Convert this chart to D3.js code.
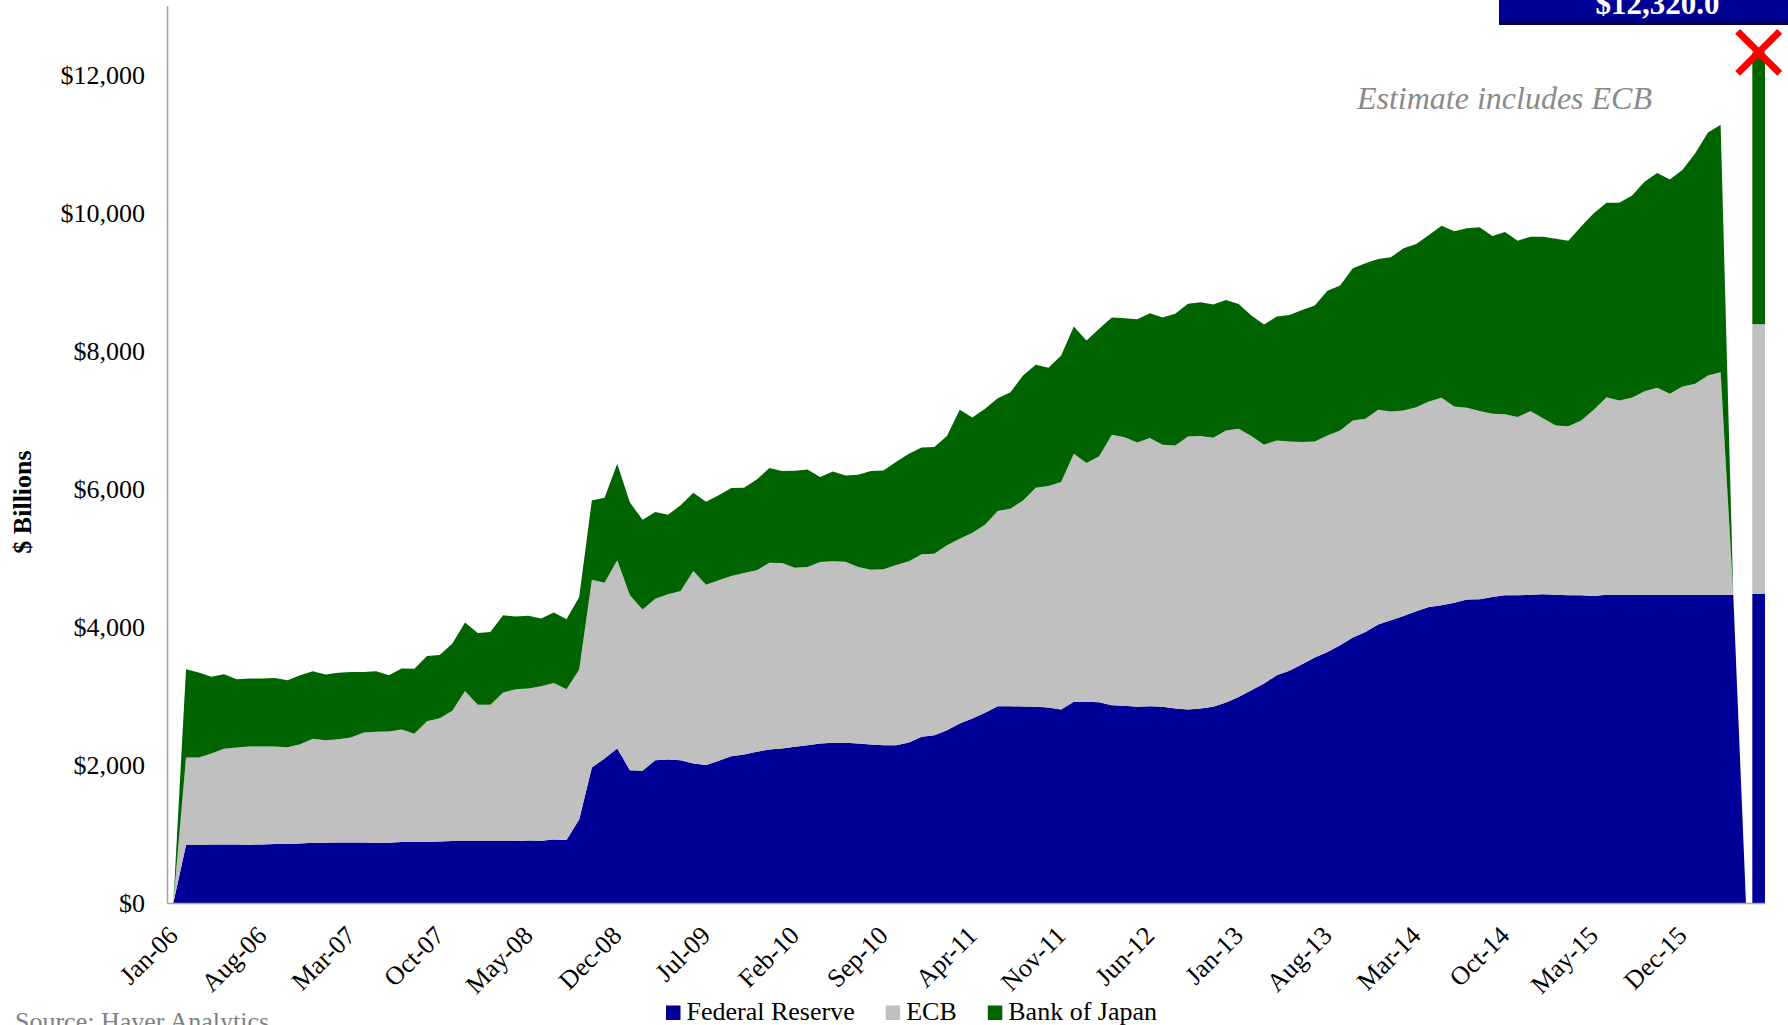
<!DOCTYPE html>
<html>
<head>
<meta charset="utf-8">
<script src="https://cdn.jsdelivr.net/npm/d3@7"></script>
<style>
  html, body { margin: 0; padding: 0; background: #fff; }
  svg { display: block; }
  text { font-family: "Liberation Serif", "Times New Roman", serif; }
</style>
</head>
<body>
<svg id="chart" width="1788" height="1025"></svg>
<script>
// ---------------- DATA ($ billions, monthly Jan-06 .. May-16) ----------------
const monthNames = ["Jan","Feb","Mar","Apr","May","Jun","Jul","Aug","Sep","Oct","Nov","Dec"];
const monthCategories = [];
for (let i = 0; i < 125; i++) {
  monthCategories.push(monthNames[i % 12] + "-" + String(6 + Math.floor(i / 12)).padStart(2, "0"));
}
const estimateCategory = "Estimate";
const categories = monthCategories.concat([estimateCategory]);

const xTickLabels = ["Jan-06","Aug-06","Mar-07","Oct-07","May-08","Dec-08","Jul-09","Feb-10","Sep-10",
  "Apr-11","Nov-11","Jun-12","Jan-13","Aug-13","Mar-14","Oct-14","May-15","Dec-15"];
const yTickValues = [0, 2000, 4000, 6000, 8000, 10000, 12000];

const fedValues = [0,
  839,839,849,849,849,844,849,854,854,863,873,873,878,878,878,873,873,883,887,887,
  892,897,897,897,897,897,897,907,902,921,911,1210,1962,2094,2238,1924,1915,2069,2079,2069,
  2021,1997,2059,2127,2151,2190,2223,2238,2262,2286,2310,2320,2320,2310,2296,2286,2286,2325,2407,2431,
  2503,2600,2672,2754,2850,2850,2846,2841,2831,2802,2913,2913,2908,2865,2855,2841,2850,2841,2817,2802,
  2817,2841,2903,2985,3082,3178,3299,3362,3458,3555,3637,3733,3844,3926,4032,4095,4157,4225,4288,4312,
  4350,4394,4399,4432,4456,4456,4466,4471,4466,4456,4456,4447,4466,4466,4461,4461,4466,4461,4461,4461,
  4466,4461,4461,0];

const ecbValues = [0,
  1269,1269,1317,1384,1403,1423,1418,1413,1403,1438,1505,1485,1495,1519,1591,1606,1611,1630,1563,1746,
  1785,1886,2175,1973,1973,2151,2199,2199,2238,2267,2185,2171,2718,2546,2725,2533,2334,2339,2392,2450,
  2788,2614,2614,2609,2629,2628,2706,2686,2595,2580,2629,2628,2624,2556,2532,2547,2609,2623,2643,2628,
  2677,2676,2691,2725,2827,2860,2985,3174,3207,3294,3594,3458,3564,3917,3892,3830,3883,3796,3810,3955,
  3945,3897,3941,3883,3680,3458,3400,3323,3217,3130,3134,3111,3145,3087,3111,3024,2976,2956,2975,3004,
  2841,2778,2725,2653,2624,2581,2658,2551,2450,2450,2533,2696,2860,2812,2855,2952,2995,2913,3019,3058,
  3174,3227,0,0];

const bojValues = [0,
  1278,1229,1109,1080,989,984,984,993,970,998,979,951,960,950,878,878,815,882,941,946,
  916,974,989,1041,1056,1119,1052,1056,979,1018,1013,1051,1150,1230,1399,1343,1302,1254,1153,1240,
  1134,1199,1231,1274,1235,1317,1370,1332,1403,1414,1230,1303,1249,1337,1428,1432,1495,1559,1548,1544,
  1582,1867,1669,1679,1635,1689,1809,1780,1713,1834,1842,1776,1844,1697,1722,1784,1809,1842,1906,1921,
  1939,1929,1891,1809,1746,1742,1794,1832,1915,1967,2098,2098,2204,2252,2185,2233,2349,2364,2412,2494,
  2537,2599,2662,2575,2638,2556,2527,2629,2706,2687,2807,2845,2817,2865,2928,3034,3111,3106,3140,3338,
  3520,3583,0,0];

// Estimate column (includes ECB)
const estimateFed = 4476;
const estimateEcb = 3907;
const estimateBoj = 3937;
const estimateLabel = "$12,320.0";

const seriesNames = ["Federal Reserve", "ECB", "Bank of Japan"];
const seriesColors = ["#000099", "#c0c0c0", "#006400"];

// ---------------- CHART ----------------
const svg = d3.select("#chart");

const x = d3.scaleBand().domain(categories).range([167, 1765]).paddingInner(0).paddingOuter(0);
const y = d3.scaleLinear().domain([0, 13000]).range([903, 5.4]);
const cx = c => x(c) + x.bandwidth() / 2;

const rows = monthCategories.map((c, i) => ({
  cat: c, "Federal Reserve": fedValues[i], "ECB": ecbValues[i], "Bank of Japan": bojValues[i]
}));
const stacked = d3.stack().keys(seriesNames)(rows);

const area = d3.area()
  .x(d => cx(d.data.cat))
  .y0(d => y(d[0]))
  .y1(d => y(d[1]))
  .curve(d3.curveLinear);

svg.append("g").selectAll("path")
  .data(stacked)
  .join("path")
  .attr("d", area)
  .attr("fill", (d, i) => seriesColors[i]);

// Estimate stacked column
const estRows = [{ cat: estimateCategory, "Federal Reserve": estimateFed, "ECB": estimateEcb, "Bank of Japan": estimateBoj }];
const estStack = d3.stack().keys(seriesNames)(estRows);
svg.append("g").selectAll("rect")
  .data(estStack)
  .join("rect")
  .attr("x", d => x(d[0].data.cat))
  .attr("width", x.bandwidth())
  .attr("y", d => y(d[0][1]))
  .attr("height", d => y(d[0][0]) - y(d[0][1]))
  .attr("fill", (d, i) => seriesColors[i]);

// Axes
const axisColor = "#a6a6a6";
const xAxis = svg.append("g")
  .attr("transform", `translate(0,${y(0)})`)
  .call(d3.axisBottom(x).tickValues(xTickLabels).tickSize(0).tickSizeOuter(0));
xAxis.select(".domain").attr("stroke", axisColor).attr("stroke-width", 1.6);
xAxis.selectAll(".tick line").remove();
xAxis.selectAll(".tick text")
  .attr("x", 0).attr("y", 0).attr("dy", 0)
  .attr("text-anchor", "end")
  .attr("transform", "translate(6,34) rotate(-45)")
  .attr("fill", "#000")
  .style("font-family", "'Liberation Serif', 'Times New Roman', serif")
  .style("font-size", "26px");

const yAxis = svg.append("g")
  .attr("transform", `translate(167,0)`)
  .call(d3.axisLeft(y).tickValues(yTickValues).tickSize(0).tickSizeOuter(0).tickPadding(22)
    .tickFormat(v => "$" + d3.format(",")(v)));
yAxis.select(".domain").attr("stroke", axisColor).attr("stroke-width", 1.6);
yAxis.selectAll(".tick text")
  .attr("dy", "0.33em")
  .attr("fill", "#000")
  .style("font-family", "'Liberation Serif', 'Times New Roman', serif")
  .style("font-size", "26px");

// Y axis title
svg.append("text")
  .attr("transform", "translate(31,502) rotate(-90)")
  .attr("text-anchor", "middle")
  .attr("font-size", 26)
  .attr("font-weight", "bold")
  .attr("fill", "#000")
  .text("$ Billions");

// Annotation
svg.append("text")
  .attr("x", 1652).attr("y", 109)
  .attr("text-anchor", "end")
  .attr("font-size", 32)
  .attr("font-style", "italic")
  .attr("fill", "#8a8a8a")
  .text("Estimate includes ECB");

// Estimate value box
const defs = svg.append("defs");
const grad = defs.append("linearGradient").attr("id", "boxGrad")
  .attr("x1", "0%").attr("y1", "0%").attr("x2", "0%").attr("y2", "100%");
grad.append("stop").attr("offset", "0%").attr("stop-color", "#0000a0");
grad.append("stop").attr("offset", "85%").attr("stop-color", "#000090");
grad.append("stop").attr("offset", "100%").attr("stop-color", "#000055");
svg.append("rect")
  .attr("x", 1499).attr("y", -20).attr("width", 300).attr("height", 45)
  .attr("fill", "url(#boxGrad)");
svg.append("text")
  .attr("x", 1657.5).attr("y", 14)
  .attr("text-anchor", "middle")
  .attr("font-size", 31)
  .attr("font-weight", "bold")
  .attr("fill", "#fff")
  .text(estimateLabel);

// Red X marker at estimate top
const xc = cx(estimateCategory);
const xtop = y(estimateFed + estimateEcb + estimateBoj);
const hs = 21;
svg.append("g").attr("stroke", "#ff0000").attr("stroke-width", 7)
  .selectAll("line")
  .data([[-1, -1, 1, 1], [1, -1, -1, 1]])
  .join("line")
  .attr("x1", d => xc + d[0] * hs).attr("y1", d => xtop + d[1] * hs)
  .attr("x2", d => xc + d[2] * hs).attr("y2", d => xtop + d[3] * hs);

// Legend
const legend = svg.append("g");
let lx = 666;
seriesNames.forEach((name, i) => {
  legend.append("rect").attr("x", lx).attr("y", 1005.5).attr("width", 14.5).attr("height", 14.5)
    .attr("fill", seriesColors[i]);
  const t = legend.append("text").attr("x", lx + 20.5).attr("y", 1020)
    .attr("font-size", 26).attr("fill", "#000").text(name);
  lx += 20.5 + t.node().getComputedTextLength() + 31;
});

// Source
svg.append("text")
  .attr("x", 15).attr("y", 1030)
  .attr("font-size", 26)
  .attr("fill", "#7f7f7f")
  .text("Source: Haver Analytics");
</script>
</body>
</html>
